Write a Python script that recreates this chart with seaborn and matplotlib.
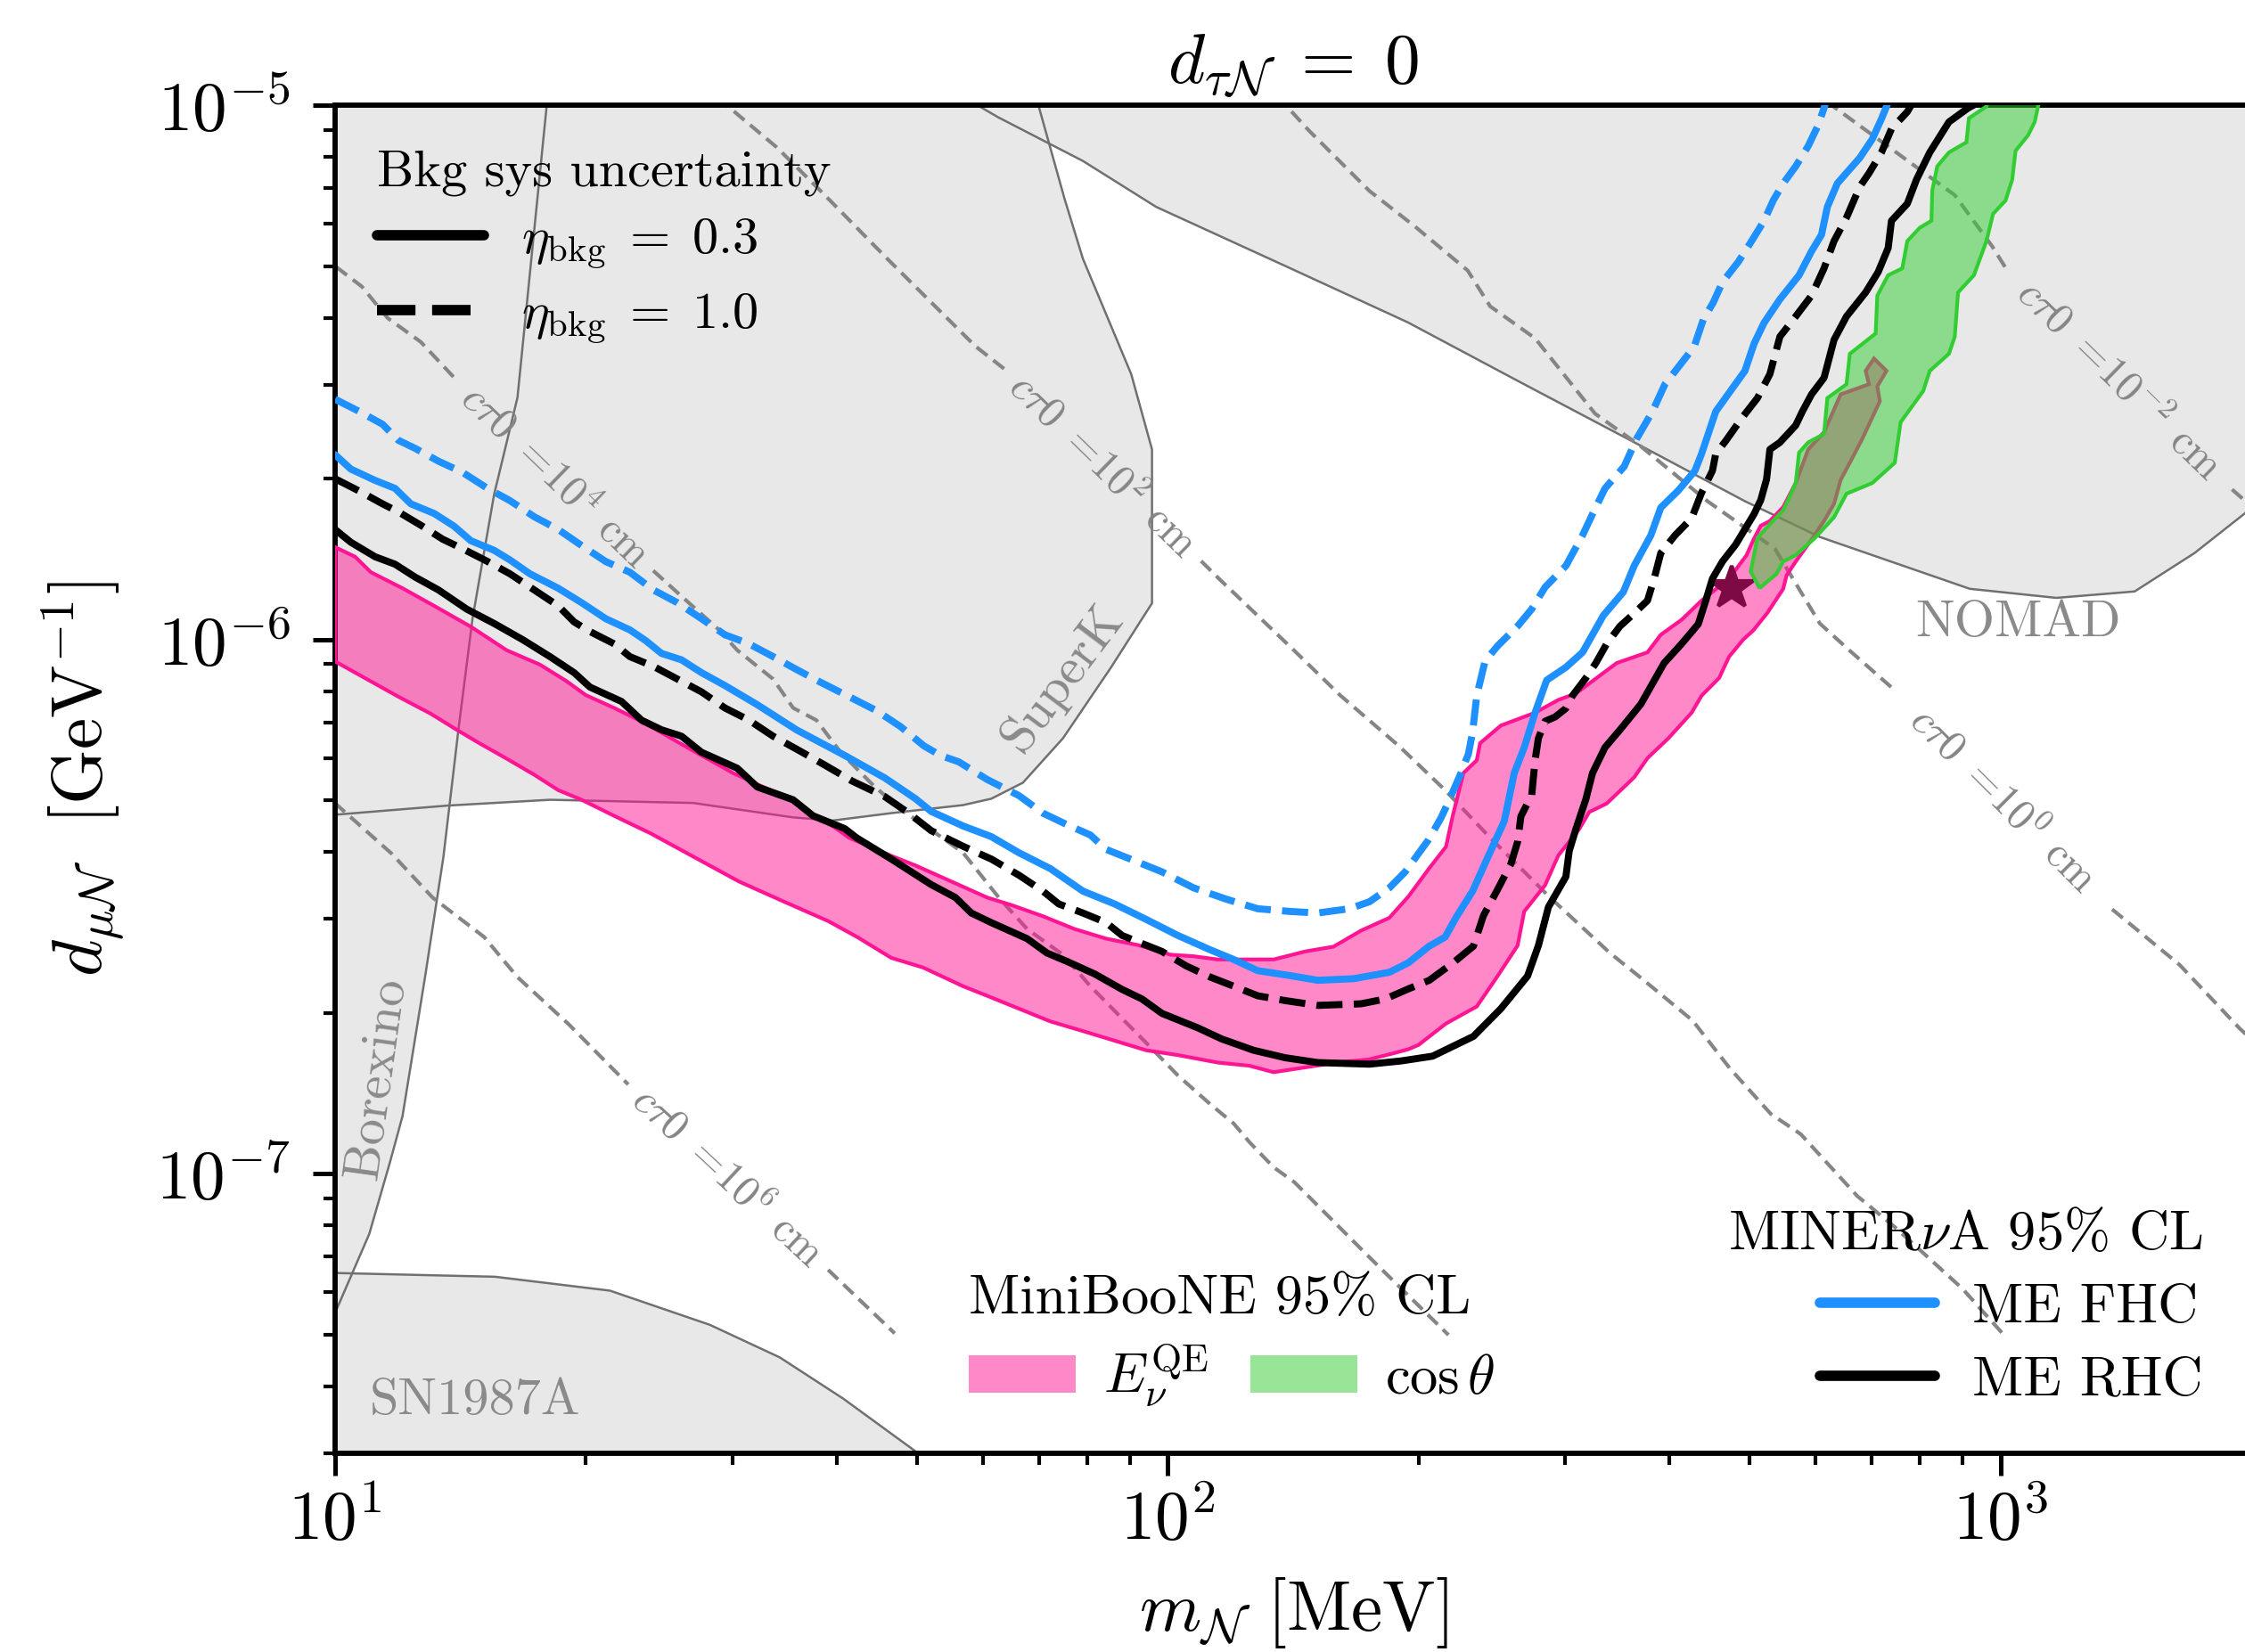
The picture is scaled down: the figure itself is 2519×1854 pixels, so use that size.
import numpy as np
import matplotlib
matplotlib.use("Agg")
import matplotlib.pyplot as plt
import seaborn as sns
from matplotlib.lines import Line2D
from matplotlib.patches import Patch
from matplotlib.colors import to_rgba

# ------------------------------------------------------------------
# Data, stored as (log10 m_N [MeV], log10 d_muN [GeV^-1])
# ------------------------------------------------------------------
# MINERvA ME FHC, eta_bkg = 0.3 (blue solid)
fhc_eta03 = [(1.000,-5.654),(1.019,-5.681),(1.048,-5.702),(1.072,-5.717),(1.091,-5.746),(1.119,-5.764),
    (1.143,-5.788),(1.163,-5.815),(1.191,-5.833),(1.210,-5.851),(1.234,-5.877),(1.268,-5.904),(1.296,-5.931),
    (1.325,-5.961),(1.354,-5.982),(1.373,-6.002),(1.392,-6.026),(1.416,-6.038),(1.440,-6.062),(1.468,-6.086),
    (1.507,-6.122),(1.554,-6.169),(1.612,-6.217),(1.660,-6.259),(1.697,-6.298),(1.716,-6.322),(1.754,-6.349),
    (1.788,-6.369),(1.821,-6.399),(1.859,-6.429),(1.898,-6.471),(1.936,-6.495),(1.974,-6.524),(2.012,-6.554),
    (2.051,-6.581),(2.079,-6.599),(2.108,-6.620),(2.146,-6.629),(2.180,-6.638),(2.223,-6.635),(2.266,-6.623),
    (2.289,-6.605),(2.313,-6.575),(2.333,-6.557),(2.347,-6.518),(2.366,-6.471),(2.385,-6.405),(2.404,-6.340),
    (2.416,-6.250),(2.428,-6.202),(2.441,-6.137),(2.455,-6.076),(2.478,-6.052),(2.498,-6.024),(2.523,-5.955),
    (2.547,-5.911),(2.560,-5.862),(2.580,-5.805),(2.592,-5.753),(2.613,-5.721),(2.633,-5.684),(2.641,-5.652),
    (2.658,-5.573),(2.693,-5.497),(2.704,-5.446),(2.716,-5.407),(2.735,-5.363),(2.758,-5.318),(2.773,-5.273),
    (2.785,-5.242),(2.792,-5.190),(2.804,-5.146),(2.831,-5.098),(2.846,-5.063),(2.857,-5.025),(2.863,-5.002),
    (2.870,-4.970)]

# MINERvA ME FHC, eta_bkg = 1.0 (blue dashed)
fhc_eta10 = [(1.000,-5.550),(1.029,-5.573),(1.057,-5.597),(1.076,-5.627),(1.096,-5.642),(1.124,-5.666),
    (1.153,-5.687),(1.182,-5.716),(1.210,-5.740),(1.239,-5.770),(1.268,-5.794),(1.296,-5.824),(1.325,-5.854),
    (1.354,-5.874),(1.382,-5.907),(1.411,-5.931),(1.440,-5.961),(1.468,-5.991),(1.497,-6.008),(1.526,-6.032),
    (1.554,-6.056),(1.583,-6.080),(1.621,-6.110),(1.650,-6.133),(1.679,-6.163),(1.707,-6.199),(1.727,-6.217),
    (1.749,-6.229),(1.783,-6.262),(1.821,-6.292),(1.850,-6.325),(1.878,-6.346),(1.907,-6.366),(1.926,-6.393),
    (1.955,-6.411),(1.993,-6.435),(2.031,-6.465),(2.070,-6.486),(2.108,-6.504),(2.146,-6.509),(2.180,-6.512),
    (2.218,-6.504),(2.242,-6.491),(2.266,-6.465),(2.285,-6.435),(2.299,-6.405),(2.313,-6.375),(2.328,-6.334),
    (2.337,-6.304),(2.352,-6.250),(2.361,-6.214),(2.366,-6.173),(2.371,-6.105),(2.381,-6.040),(2.396,-6.012),
    (2.420,-5.975),(2.437,-5.943),(2.453,-5.902),(2.478,-5.862),(2.498,-5.805),(2.510,-5.765),(2.525,-5.717),
    (2.548,-5.676),(2.563,-5.624),(2.582,-5.573),(2.597,-5.522),(2.616,-5.484),(2.632,-5.452),(2.643,-5.401),
    (2.655,-5.369),(2.666,-5.331),(2.685,-5.293),(2.701,-5.254),(2.716,-5.216),(2.727,-5.178),(2.739,-5.146),
    (2.754,-5.114),(2.769,-5.076),(2.781,-5.037),(2.788,-5.005),(2.795,-4.970)]

# MINERvA ME RHC, eta_bkg = 0.3 (black solid)
rhc_eta03 = [(1.000,-5.794),(1.019,-5.818),(1.048,-5.845),(1.072,-5.859),(1.096,-5.883),(1.124,-5.907),
    (1.158,-5.943),(1.191,-5.970),(1.225,-6.000),(1.258,-6.032),(1.287,-6.062),(1.306,-6.089),(1.344,-6.116),
    (1.368,-6.151),(1.392,-6.169),(1.416,-6.181),(1.440,-6.211),(1.483,-6.241),(1.507,-6.276),(1.550,-6.300),
    (1.574,-6.330),(1.612,-6.354),(1.626,-6.371),(1.668,-6.411),(1.692,-6.435),(1.716,-6.459),(1.745,-6.483),
    (1.764,-6.512),(1.788,-6.530),(1.831,-6.560),(1.855,-6.587),(1.878,-6.602),(1.912,-6.626),(1.945,-6.655),
    (1.969,-6.673),(1.993,-6.700),(2.036,-6.727),(2.065,-6.748),(2.103,-6.769),(2.141,-6.783),(2.180,-6.792),
    (2.242,-6.795),(2.280,-6.789),(2.318,-6.780),(2.367,-6.743),(2.400,-6.691),(2.432,-6.630),(2.445,-6.573),
    (2.457,-6.501),(2.478,-6.444),(2.482,-6.396),(2.490,-6.355),(2.502,-6.299),(2.510,-6.250),(2.525,-6.202),
    (2.543,-6.169),(2.568,-6.121),(2.596,-6.044),(2.617,-6.008),(2.637,-5.971),(2.646,-5.927),(2.654,-5.886),
    (2.666,-5.854),(2.682,-5.822),(2.704,-5.765),(2.712,-5.739),(2.719,-5.700),(2.723,-5.644),(2.735,-5.631),
    (2.754,-5.599),(2.762,-5.573),(2.773,-5.541),(2.788,-5.510),(2.800,-5.439),(2.815,-5.395),(2.838,-5.350),
    (2.853,-5.312),(2.865,-5.267),(2.869,-5.216),(2.888,-5.184),(2.899,-5.139),(2.915,-5.088),(2.938,-5.031),
    (2.961,-5.005),(2.990,-4.980)]

# MINERvA ME RHC, eta_bkg = 1.0 (black dashed)
rhc_eta10 = [(1.000,-5.699),(1.029,-5.722),(1.057,-5.746),(1.076,-5.761),(1.105,-5.788),(1.129,-5.812),
    (1.153,-5.830),(1.182,-5.853),(1.210,-5.877),(1.239,-5.907),(1.268,-5.937),(1.287,-5.967),(1.306,-5.985),
    (1.335,-6.008),(1.354,-6.032),(1.382,-6.050),(1.411,-6.074),(1.440,-6.098),(1.468,-6.128),(1.497,-6.151),
    (1.526,-6.181),(1.554,-6.205),(1.588,-6.235),(1.621,-6.265),(1.660,-6.294),(1.688,-6.324),(1.716,-6.358),
    (1.754,-6.387),(1.788,-6.411),(1.821,-6.441),(1.850,-6.471),(1.869,-6.495),(1.898,-6.512),(1.926,-6.530),
    (1.945,-6.554),(1.964,-6.566),(1.993,-6.584),(2.022,-6.611),(2.051,-6.632),(2.079,-6.649),(2.108,-6.667),
    (2.141,-6.676),(2.180,-6.685),(2.232,-6.682),(2.261,-6.673),(2.289,-6.654),(2.314,-6.638),(2.342,-6.606),
    (2.367,-6.574),(2.379,-6.517),(2.396,-6.468),(2.412,-6.420),(2.420,-6.379),(2.424,-6.331),(2.437,-6.291),
    (2.441,-6.226),(2.445,-6.185),(2.453,-6.153),(2.465,-6.145),(2.478,-6.129),(2.486,-6.105),(2.502,-6.072),
    (2.514,-6.044),(2.527,-6.008),(2.543,-5.975),(2.560,-5.951),(2.576,-5.927),(2.584,-5.886),(2.592,-5.838),
    (2.609,-5.805),(2.629,-5.773),(2.641,-5.725),(2.654,-5.684),(2.658,-5.652),(2.670,-5.628),(2.689,-5.586),
    (2.708,-5.548),(2.723,-5.503),(2.735,-5.433),(2.754,-5.395),(2.773,-5.356),(2.788,-5.305),(2.800,-5.254),
    (2.815,-5.210),(2.831,-5.152),(2.842,-5.127),(2.857,-5.088),(2.869,-5.044),(2.888,-5.012),(2.900,-4.980)]

# MiniBooNE E_nu^QE 95% CL band: upper edge (left->right, incl. small tongue) and lower edge (left->right)
eqe_upper = [(1.000,-5.827),(1.024,-5.845),(1.043,-5.874),(1.081,-5.904),(1.119,-5.937),(1.163,-5.976),
    (1.206,-6.020),(1.246,-6.047),(1.277,-6.077),(1.301,-6.104),(1.335,-6.128),(1.373,-6.157),(1.406,-6.187),
    (1.440,-6.217),(1.478,-6.250),(1.507,-6.271),(1.540,-6.294),(1.564,-6.318),(1.602,-6.354),(1.617,-6.371),
    (1.668,-6.405),(1.697,-6.423),(1.740,-6.453),(1.783,-6.483),(1.812,-6.497),(1.850,-6.518),(1.888,-6.542),
    (1.926,-6.560),(1.964,-6.572),(2.003,-6.590),(2.031,-6.593),(2.060,-6.599),(2.089,-6.599),(2.127,-6.599),
    (2.165,-6.584),(2.199,-6.575),(2.232,-6.545),(2.266,-6.521),(2.289,-6.481),(2.314,-6.428),(2.334,-6.388),
    (2.342,-6.331),(2.355,-6.250),(2.371,-6.226),(2.375,-6.194),(2.400,-6.161),(2.441,-6.137),(2.469,-6.113),
    (2.490,-6.101),(2.539,-6.044),(2.576,-6.024),(2.592,-5.991),(2.617,-5.963),(2.641,-5.927),(2.674,-5.886),
    (2.695,-5.842),(2.703,-5.814),(2.712,-5.787),(2.723,-5.778),(2.739,-5.752),(2.754,-5.707),(2.769,-5.644),
    (2.788,-5.612),(2.808,-5.541),(2.842,-5.522),(2.838,-5.497),(2.848,-5.474),(2.863,-5.497),(2.852,-5.526),
    (2.855,-5.554),(2.834,-5.624),(2.819,-5.669),(2.808,-5.701),(2.800,-5.746),(2.788,-5.778),(2.773,-5.813)]
eqe_lower = [(1.000,-6.041),(1.038,-6.074),(1.076,-6.107),(1.115,-6.139),(1.143,-6.166),(1.172,-6.193),
    (1.206,-6.223),(1.239,-6.253),(1.268,-6.282),(1.296,-6.300),(1.335,-6.330),(1.379,-6.363),(1.432,-6.408),
    (1.485,-6.453),(1.538,-6.490),(1.592,-6.527),(1.627,-6.557),(1.668,-6.596),(1.706,-6.614),(1.754,-6.649),
    (1.783,-6.667),(1.821,-6.691),(1.859,-6.715),(1.898,-6.733),(1.936,-6.751),(1.974,-6.769),(2.012,-6.778),
    (2.060,-6.792),(2.098,-6.798),(2.127,-6.810),(2.165,-6.801),(2.203,-6.792),(2.242,-6.786),(2.270,-6.775),
    (2.289,-6.767),(2.301,-6.759),(2.334,-6.719),(2.371,-6.687),(2.396,-6.630),(2.420,-6.573),(2.428,-6.509),
    (2.453,-6.460),(2.469,-6.404),(2.494,-6.355),(2.506,-6.323),(2.527,-6.307),(2.560,-6.258),(2.576,-6.222),
    (2.601,-6.185),(2.629,-6.137),(2.641,-6.105),(2.662,-6.072),(2.674,-6.032),(2.691,-6.000),(2.703,-5.983),
    (2.720,-5.950),(2.739,-5.905),(2.743,-5.880),(2.754,-5.854)]

# MiniBooNE cos(theta) 95% CL region: left edge (bottom->top), right edge (top->bottom)
cos_left = [(2.710,-5.902),(2.700,-5.873),(2.708,-5.810),(2.723,-5.784),(2.739,-5.758),(2.754,-5.707),
    (2.758,-5.650),(2.769,-5.631),(2.788,-5.615),(2.792,-5.548),(2.815,-5.522),(2.819,-5.465),(2.850,-5.427),
    (2.852,-5.356),(2.865,-5.318),(2.882,-5.305),(2.888,-5.254),(2.903,-5.229),(2.917,-5.216),(2.918,-5.159),
    (2.924,-5.114),(2.938,-5.088),(2.959,-5.069),(2.962,-5.024),(2.983,-5.002),(2.990,-4.970)]
cos_right = [(3.050,-4.970),(3.045,-5.002),(3.041,-5.031),(3.033,-5.056),(3.018,-5.085),(3.014,-5.139),
    (3.006,-5.178),(2.991,-5.203),(2.983,-5.254),(2.968,-5.318),(2.949,-5.350),(2.945,-5.433),(2.938,-5.465),
    (2.915,-5.497),(2.907,-5.535),(2.880,-5.593),(2.873,-5.669),(2.846,-5.707),(2.815,-5.727),(2.800,-5.771),
    (2.777,-5.810),(2.754,-5.842),(2.739,-5.854),(2.731,-5.877),(2.712,-5.902)]

# benchmark point (star)
star_point = (2.677, -5.903)

# excluded regions (gray)
superk = [(0.90,-4.90),(1.830,-4.90),(1.845,-5.002),(1.876,-5.175),(1.898,-5.287),(1.956,-5.503),
    (1.981,-5.644),(1.981,-5.932),(1.931,-6.054),(1.874,-6.185),(1.826,-6.268),(1.788,-6.298),(1.754,-6.310),
    (1.668,-6.325),(1.597,-6.339),(1.550,-6.333),(1.430,-6.306),(1.258,-6.300),(1.134,-6.311),(1.000,-6.328),
    (0.90,-6.335)]
nomad = [(1.720,-4.95),(3.40,-4.95),(3.40,-5.62),(3.350,-5.690),(3.294,-5.763),(3.233,-5.838),(3.161,-5.910),
    (3.067,-5.922),(2.963,-5.905),(2.783,-5.808),(2.693,-5.741),(2.558,-5.629),(2.423,-5.518),(2.288,-5.406),
    (2.143,-5.302),(1.986,-5.190),(1.898,-5.104),(1.796,-5.022),(1.774,-5.002)]
borexino = [(0.90,-4.95),(1.257,-4.95),(1.254,-5.002),(1.219,-5.547),(1.191,-5.728),(1.165,-5.961),
    (1.148,-6.170),(1.130,-6.408),(1.108,-6.632),(1.081,-6.892),(1.066,-6.978),(1.041,-7.113),(1.001,-7.257),
    (0.970,-7.35),(0.90,-7.35)]
sn1987a = [(0.90,-7.186),(1.001,-7.186),(1.192,-7.193),(1.330,-7.219),(1.450,-7.283),(1.534,-7.344),
    (1.610,-7.421),(1.698,-7.521),(1.750,-7.60),(0.90,-7.60)]

# constant decay-length contours (segments before / after their inline label)
ctau_1e6 = ([(0.98,-6.28),(1.001,-6.308),(1.068,-6.401),(1.117,-6.483),(1.179,-6.557),(1.219,-6.632),
             (1.281,-6.721),(1.352,-6.833)],
            [(1.592,-7.180),(1.672,-7.299)])
ctau_1e4 = ([(0.98,-5.28),(1.001,-5.302),(1.032,-5.339),(1.063,-5.398),(1.103,-5.443),(1.148,-5.518)],
            [(1.382,-5.871),(1.416,-5.919),(1.459,-5.979),(1.483,-6.020),(1.526,-6.074),(1.550,-6.128),
             (1.578,-6.151),(1.607,-6.211),(1.645,-6.271),(1.679,-6.318),(1.711,-6.351),(1.754,-6.399),
             (1.797,-6.483),(1.831,-6.542),(1.874,-6.590),(1.907,-6.649),(1.941,-6.703),(1.979,-6.763),
             (2.012,-6.816),(2.051,-6.870),(2.079,-6.906),(2.098,-6.941),(2.127,-6.988),(2.152,-7.016),
             (2.193,-7.080),(2.243,-7.158),(2.337,-7.302)])
ctau_1e2 = ([(1.44,-4.96),(1.472,-5.002),(1.530,-5.078),(1.583,-5.160),(1.663,-5.287),(1.716,-5.369),
             (1.769,-5.451),(1.805,-5.495)],
            [(2.040,-5.853),(2.062,-5.887),(2.107,-5.954),(2.152,-6.021),(2.206,-6.103),(2.278,-6.200),
             (2.333,-6.282),(2.387,-6.371),(2.459,-6.483),(2.531,-6.587),(2.567,-6.632),(2.630,-6.713),
             (2.675,-6.803),(2.724,-6.888),(2.760,-6.926),(2.828,-7.042),(2.873,-7.100),(2.954,-7.215),
             (3.004,-7.302)])
ctau_1e0 = ([(2.11,-4.96),(2.143,-5.002),(2.170,-5.048),(2.242,-5.160),(2.297,-5.227),(2.360,-5.309),
             (2.387,-5.376),(2.441,-5.436),(2.513,-5.577),(2.567,-5.637),(2.648,-5.741),(2.729,-5.830),
             (2.783,-5.970),(2.819,-6.021),(2.873,-6.095)],
            [(3.134,-6.505),(3.215,-6.609),(3.287,-6.728),(3.33,-6.79)])
ctau_1em2 = ([(2.77,-4.97),(2.801,-5.004),(2.873,-5.086),(2.945,-5.168),(2.990,-5.264),(3.008,-5.309)],
             [(3.278,-5.719),(3.33,-5.79)])
ctau_exponents = ["6", "4", "2", "0", "-2"]

# ------------------------------------------------------------------
def xy(points):
    a = np.asarray(points, dtype=float)
    return 10.0 ** a[:, 0], 10.0 ** a[:, 1]

sns.set_theme(style="ticks")
plt.rcParams.update({
    "font.family": "serif",
    "font.serif": ["cmr10", "DejaVu Serif"],
    "mathtext.fontset": "cm",
    "axes.formatter.use_mathtext": True,
    "axes.edgecolor": "black",
    "xtick.color": "black",
    "ytick.color": "black",
    "text.color": "black",
    "axes.labelcolor": "black",
})

W, H, DPI = 2519, 1854, 300
fig = plt.figure(figsize=(W / DPI, H / DPI), dpi=DPI)
ax = fig.add_axes([376 / W, 1 - 1630.6 / H, 2150 / W, 1512.3 / H])
ax.set_xscale("log")
ax.set_yscale("log")

GRAY_FILL = "#e8e8e8"
GRAY_EDGE = "#707070"
CT_GRAY = "#858585"
LBL_GRAY = "#8a8a8a"

regions = [superk, nomad, borexino, sn1987a]
for reg in regions:
    rx, ry = xy(reg)
    ax.fill(rx, ry, facecolor=GRAY_FILL, edgecolor="none", zorder=1)
for reg in regions:
    rx, ry = xy(reg)
    ax.fill(rx, ry, facecolor="none", edgecolor=GRAY_EDGE, lw=0.6, zorder=1.2)

# decay length contours
for pre, post in [ctau_1e6, ctau_1e4, ctau_1e2, ctau_1e0, ctau_1em2]:
    for seg in (pre, post):
        sx, sy = xy(seg)
        sns.lineplot(x=sx, y=sy, ax=ax, sort=False, estimator=None, color=CT_GRAY,
                     lw=1.0, linestyle=(0, (3.7, 2.0)), zorder=2)

ctau_label_pos = [(1.472, -7.006, -43), (1.265, -5.695, -44), (1.922, -5.674, -44.4),
                  (3.003, -6.300, -45), (3.143, -5.514, -44.3)]
for (lx, ly, rot), ex in zip(ctau_label_pos, ctau_exponents):
    ax.text(10 ** lx, 10 ** ly, r"$c\tau 0\ =\!10^{%s}$ cm" % ex, color=CT_GRAY, fontsize=11.5,
            rotation=rot, rotation_mode="anchor", ha="center", va="center", zorder=2.5)

# MiniBooNE regions
PINK = "deeppink"
GREEN = "limegreen"
px, py = xy(eqe_upper + eqe_lower[::-1])
ax.fill(px, py, facecolor=to_rgba(PINK, 0.5), edgecolor=PINK, lw=1.0, zorder=3)
gx, gy = xy(cos_left + cos_right)
ax.fill(gx, gy, facecolor=to_rgba(GREEN, 0.5), edgecolor=GREEN, lw=1.0, zorder=4)

ax.plot(10 ** star_point[0], 10 ** star_point[1], marker="*", ms=12, color="#7d0a45",
        mec="#7d0a45", zorder=5)

# MINERvA curves
BLUE = "dodgerblue"
for pts, col, ls in [(fhc_eta10, BLUE, "--"), (fhc_eta03, BLUE, "-"),
                     (rhc_eta10, "black", "--"), (rhc_eta03, "black", "-")]:
    cx, cy = xy(pts)
    sns.lineplot(x=cx, y=cy, ax=ax, sort=False, estimator=None, color=col, lw=1.9,
                 linestyle=ls, zorder=6)

# region labels
ax.text(10 ** 3.021, 10 ** -5.969, "NOMAD", color=LBL_GRAY, fontsize=14, ha="center", va="center")
ax.text(10 ** 1.168, 10 ** -7.425, "SN1987A", color=LBL_GRAY, fontsize=14, ha="center", va="center")
ax.text(10 ** 1.874, 10 ** -6.073, "SuperK", color=LBL_GRAY, fontsize=14, ha="center", va="center",
        rotation=53, rotation_mode="anchor")
ax.text(10 ** 1.050, 10 ** -6.821, "Borexino", color=LBL_GRAY, fontsize=14, ha="center", va="center",
        rotation=82, rotation_mode="anchor")

# axes styling
ax.set_xlim(10, 2000)
ax.set_ylim(3e-8, 1e-5)
for side in ["left", "bottom", "top", "right"]:
    ax.spines[side].set_visible(True)
    ax.spines[side].set_linewidth(1.4)
    ax.spines[side].set_color("black")
ax.tick_params(which="major", direction="out", length=6, width=1.2, labelsize=18.5)
ax.tick_params(which="minor", direction="out", length=3.2, width=1.0)
ax.tick_params(axis="y", which="major", pad=6)
ax.tick_params(axis="x", which="major", pad=3.5)
ax.xaxis.set_minor_formatter(matplotlib.ticker.NullFormatter())
ax.yaxis.set_minor_formatter(matplotlib.ticker.NullFormatter())

ax.set_xlabel(r"$m_{\mathcal{N}}\ [\mathrm{MeV}]$", fontsize=19, labelpad=6)
ax.set_ylabel(r"$d_{\mu\mathcal{N}}\ \ [\mathrm{GeV}^{-1}]$", fontsize=19, labelpad=8)
ax.set_title(r"$d_{\tau\mathcal{N}}\;=\;0$", fontsize=19, pad=6)

# legends
bkg_handles = [Line2D([], [], color="black", lw=2.8, ls="-"),
               Line2D([], [], color="black", lw=2.8, ls="--")]
leg1 = ax.legend(handles=bkg_handles,
                 labels=[r"$\eta_{\rm bkg}\;=\;0.3$", r"$\eta_{\rm bkg}\;=\;1.0$"],
                 title="Bkg sys uncertainty", loc="upper left", bbox_to_anchor=(0.0219, 0.967),
                 borderaxespad=0, borderpad=0, frameon=False, fontsize=14, title_fontsize=14,
                 handlelength=2.06, handletextpad=0.72, labelspacing=0.4, alignment="left")
ax.add_artist(leg1)

mb_handles = [Patch(facecolor=to_rgba(PINK, 0.5), edgecolor="none"),
              Patch(facecolor=to_rgba(GREEN, 0.5), edgecolor="none")]
leg2 = ax.legend(handles=mb_handles, labels=[r"$E_\nu^{\rm QE}$", r"$\cos\theta$"],
                 title="MiniBooNE 95% CL", ncol=2, loc="upper left", bbox_to_anchor=(0.3307, 0.132),
                 borderaxespad=0, borderpad=0, frameon=False, fontsize=15, title_fontsize=15,
                 handlelength=1.92, handleheight=0.67, handletextpad=0.5, columnspacing=0.75,
                 labelspacing=0.33, alignment="left")
ax.add_artist(leg2)

mv_handles = [Line2D([], [], color=BLUE, lw=2.8), Line2D([], [], color="black", lw=2.8)]
leg3 = ax.legend(handles=mv_handles, labels=["ME FHC", "ME RHC"], title=r"MINER$\nu$A 95% CL",
                 loc="upper right", bbox_to_anchor=(0.9749, 0.180), borderaxespad=0, borderpad=0,
                 frameon=False, fontsize=15, title_fontsize=15, handlelength=2.07, handletextpad=0.67,
                 labelspacing=0.42, alignment="right")

fig.savefig("out.png", dpi=DPI)
